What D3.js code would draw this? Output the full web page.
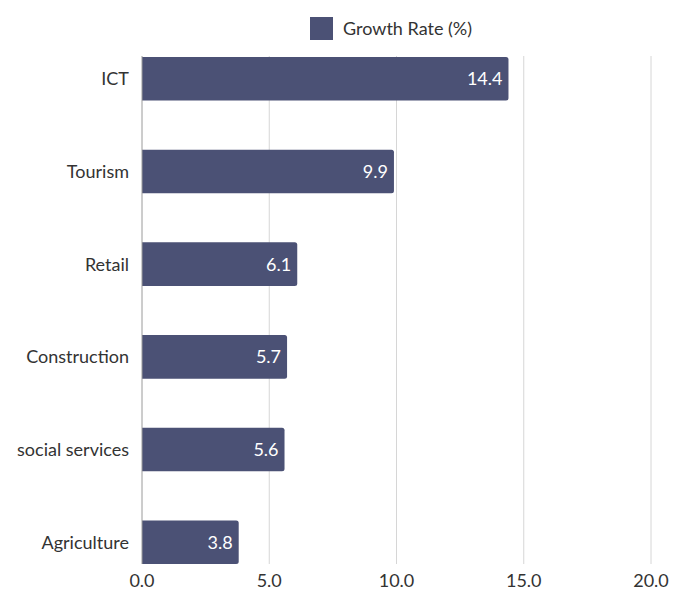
<!DOCTYPE html>
<html>
<head>
<meta charset="utf-8">
<script src="https://cdn.jsdelivr.net/npm/d3@7"></script>
<style>
  html, body { margin: 0; padding: 0; background: #ffffff; }
  svg { display: block; font-family: Lato, "Open Sans", sans-serif; }
</style>
</head>
<body>
<svg id="chart" width="681" height="590"></svg>
<script>
// Sector growth rates
const categories = ["ICT", "Tourism", "Retail", "Construction", "social services", "Agriculture"];
const growthRates = [14.4, 9.9, 6.1, 5.7, 5.6, 3.8];
const xTicks = [0, 5, 10, 15, 20];
const seriesName = "Growth Rate (%)";

const barColor = "#4b5175";
const textColor = "#333333";
const fontSize = 18;

const svg = d3.select("#chart");
const margin = { left: 142, right: 30, top: 57, bottom: 26 };
const width = 681, height = 590;

const x = d3.scaleLinear().domain([0, 20]).range([margin.left, width - margin.right]);
const y = d3.scaleBand().domain(categories)
  .range([margin.top, height - margin.bottom])
  .paddingInner(0.53).paddingOuter(0);

// vertical gridlines
svg.append("g").selectAll("line").data(xTicks.slice(1)).join("line")
  .attr("x1", d => x(d)).attr("x2", d => x(d))
  .attr("y1", margin.top - 1).attr("y2", height - margin.bottom)
  .attr("stroke", "#d6d6d6").attr("stroke-width", 1);

// bars with slightly rounded right end
const data = categories.map((c, i) => ({ c, v: growthRates[i] }));
const r = 2.5;
svg.append("g").selectAll("path").data(data).join("path")
  .attr("fill", barColor)
  .attr("d", d => {
    const x0 = x(0), x1 = x(d.v), y0 = y(d.c), h = y.bandwidth();
    return `M${x0},${y0}H${x1 - r}Q${x1},${y0} ${x1},${y0 + r}V${y0 + h - r}Q${x1},${y0 + h} ${x1 - r},${y0 + h}H${x0}Z`;
  });

// baseline
svg.append("line")
  .attr("x1", x(0)).attr("x2", x(0))
  .attr("y1", margin.top - 1).attr("y2", height - margin.bottom)
  .attr("stroke", "#9a9a9a").attr("stroke-width", 1);

// value labels inside bars
svg.append("g").selectAll("text").data(data).join("text")
  .attr("x", d => x(d.v) - 6)
  .attr("y", d => y(d.c) + y.bandwidth() / 2)
  .attr("dy", "0.36em")
  .attr("text-anchor", "end")
  .attr("fill", "#ffffff")
  .attr("font-size", fontSize)
  .text(d => d.v.toFixed(1));

// category labels
svg.append("g").selectAll("text").data(categories).join("text")
  .attr("x", margin.left - 13)
  .attr("y", d => y(d) + y.bandwidth() / 2)
  .attr("dy", "0.36em")
  .attr("text-anchor", "end")
  .attr("fill", textColor)
  .attr("font-size", fontSize)
  .text(d => d);

// x tick labels
svg.append("g").selectAll("text").data(xTicks).join("text")
  .attr("x", d => x(d))
  .attr("y", 581)
  .attr("dy", "0.36em")
  .attr("text-anchor", "middle")
  .attr("fill", textColor)
  .attr("font-size", fontSize)
  .text(d => d.toFixed(1));

// legend
const legend = svg.append("g");
legend.append("rect")
  .attr("x", 310).attr("y", 17).attr("width", 23).attr("height", 23)
  .attr("fill", barColor);
legend.append("text")
  .attr("x", 343).attr("y", 28.5).attr("dy", "0.36em")
  .attr("fill", textColor).attr("font-size", fontSize)
  .text(seriesName);
</script>
</body>
</html>
